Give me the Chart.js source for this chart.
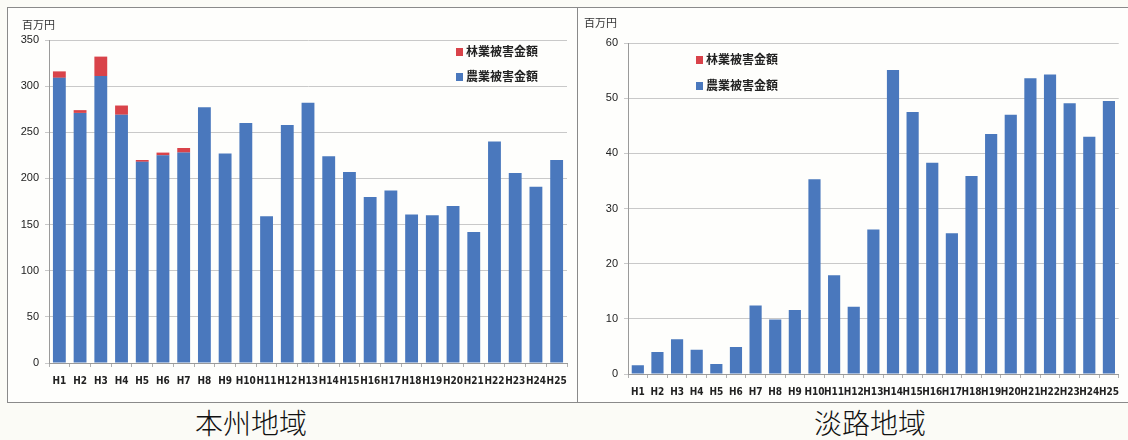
<!DOCTYPE html>
<html><head><meta charset="utf-8">
<script src="https://cdn.jsdelivr.net/npm/chart.js@4.4.1/dist/chart.umd.min.js"></script>
<style>
html,body{margin:0;padding:0;background:#fbfbf6;width:1128px;height:440px;overflow:hidden;font-family:"Noto Sans CJK JP",sans-serif;}
.box{position:absolute;border:1px solid #8a8a8a;background:#fefefc;}
.cv{position:absolute;}
.unit{position:absolute;font-size:11px;color:#333;}
.leg{position:absolute;font-size:12px;font-weight:bold;color:#222;line-height:14px;}
.leg span.sw{display:inline-block;width:7px;height:8px;margin-right:3px;vertical-align:0px;}
.cap{position:absolute;font-size:28px;color:#111;font-family:"Noto Sans CJK JP",serif;font-weight:300;}
</style></head><body>
<div class="box" style="left:7px;top:7px;width:570px;height:394px"></div>
<div class="box" style="left:577px;top:7px;width:550px;height:394px"></div>
<div class="cv" style="left:8px;top:8px;width:569px;height:393px"><canvas id="c1"></canvas></div>
<div class="cv" style="left:578px;top:8px;width:549px;height:393px"><canvas id="c2"></canvas></div>
<div class="unit" style="left:22px;top:16px">百万円</div>
<div class="unit" style="left:584px;top:14px">百万円</div>
<div class="leg" style="left:456px;top:44px"><span class="sw" style="background:#d9434a"></span>林業被害金額</div>
<div class="leg" style="left:456px;top:69px"><span class="sw" style="background:#4a78bd"></span>農業被害金額</div>
<div class="leg" style="left:696px;top:52px"><span class="sw" style="background:#d9434a"></span>林業被害金額</div>
<div class="leg" style="left:696px;top:78px"><span class="sw" style="background:#4a78bd"></span>農業被害金額</div>
<div class="cap" style="left:195px;top:402px">本州地域</div>
<div class="cap" style="left:814px;top:402px">淡路地域</div>
<script>
const years = ["H1","H2","H3","H4","H5","H6","H7","H8","H9","H10","H11","H12","H13","H14","H15","H16","H17","H18","H19","H20","H21","H22","H23","H24","H25"];
const honshuAgri = [309,271,311,269,218,225,228,277,227,260,159,258,282,224,207,180,187,161,160,170,142,240,206,191,220];
const honshuForest = [7,3,21,10,2,3,5,0,0,0,0,0,0,0,0,0,0,0,0,0,0,0,0,0,0];
const awajiAgri = [1.6,4.0,6.3,4.4,1.8,4.9,12.4,9.9,11.6,35.3,17.9,12.2,26.2,55.1,47.5,38.3,25.5,35.9,43.5,47.0,53.6,54.3,49.1,43.0,49.5];
const awajiForest = [0,0,0,0,0,0,0,0,0,0,0,0,0,0,0,0,0,0,0,0,0,0,0,0,0];
const honshuTicks = {max:350, step:50};
const awajiTicks = {max:60, step:10};
const seriesNames = ["農業被害金額","林業被害金額"];

const BLUE = '#4a78bd', RED = '#d9434a';
Chart.defaults.animation = false;

function makeChart(id, agri, forest, tk, cfg){
  return new Chart(document.getElementById(id), {
    type:'bar',
    data:{labels:years, datasets:[
      {label:seriesNames[0], data:agri, backgroundColor:BLUE, barPercentage:0.62, categoryPercentage:1},
      {label:seriesNames[1], data:forest, backgroundColor:RED, barPercentage:0.62, categoryPercentage:1}
    ]},
    options:{
      responsive:true, maintainAspectRatio:false,
      layout:{padding:cfg.pad},
      plugins:{legend:{display:false}, tooltip:{enabled:false}},
      scales:{
        x:{stacked:true, offset:true,
          grid:{display:true, drawOnChartArea:false, drawTicks:true, tickLength:4, color:'#b0b0b0', offset:true},
          border:{color:'#9a9a9a'},
          ticks:{autoSkip:false, maxRotation:0, minRotation:0, padding:cfg.xpad, color:'#222',
            font:{family:'"Liberation Sans Narrow","DejaVu Sans Condensed",sans-serif', size:10, weight:'bold'}},
          afterFit:s=>{s.height=cfg.xh;}
        },
        y:{stacked:true, min:0, max:tk.max,
          ticks:{stepSize:tk.step, padding:6, color:'#222', font:{family:'"Liberation Sans",sans-serif', size:11}},
          grid:{color:'#c9c9c9', tickLength:4, drawTicks:true},
          border:{color:'#9a9a9a'},
          afterFit:s=>{s.width=cfg.yw;}
        }
      }
    }
  });
}
makeChart('c1', honshuAgri, honshuForest, honshuTicks, {pad:{top:32,right:10,bottom:0,left:0}, yw:41, xh:38, xpad:8});
makeChart('c2', awajiAgri, awajiForest, awajiTicks, {pad:{top:35,right:3,bottom:0,left:0}, yw:50, xh:27, xpad:8});
</script>
</body></html>
